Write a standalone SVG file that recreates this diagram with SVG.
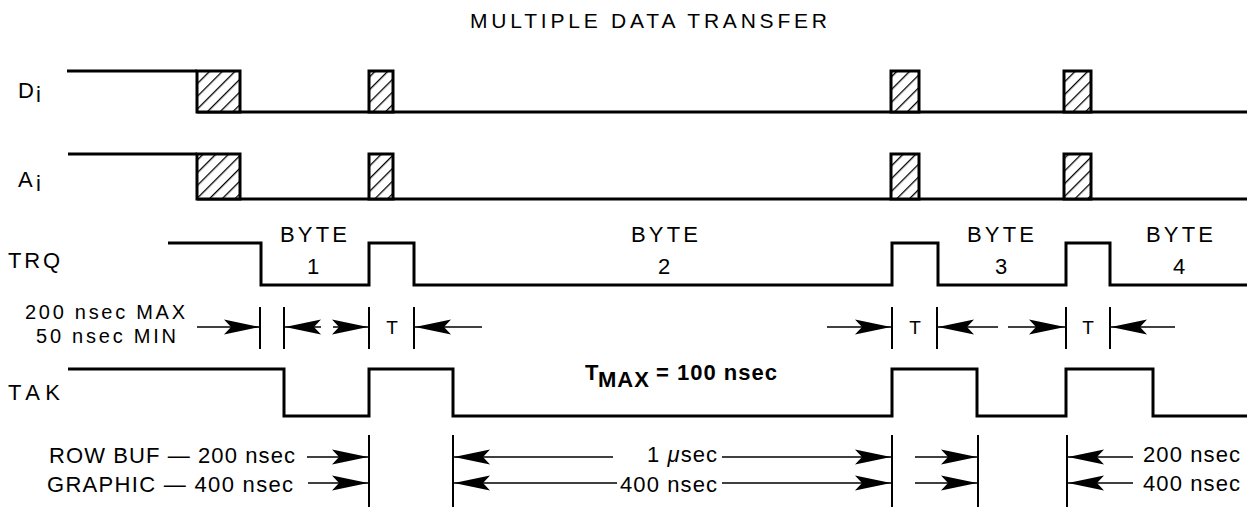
<svg xmlns="http://www.w3.org/2000/svg" width="1254" height="508" viewBox="0 0 1254 508">
<style>
text{font-family:"Liberation Sans",Arial,sans-serif;fill:#000;font-size:22px}
.title{font-size:21px}
.t{font-size:19px;text-anchor:middle}
.mid{text-anchor:middle}
.lim{font-size:20px}
.sig{fill:none;stroke:#000;stroke-width:3;stroke-linejoin:miter}
.box{fill:url(#hatch);stroke:#000;stroke-width:3}
.tick{stroke:#000;stroke-width:2}
.dim{stroke:#000;stroke-width:1.6;marker-end:url(#ah)}
</style>
<defs>
<pattern id="hatch" patternUnits="userSpaceOnUse" width="9" height="9" patternTransform="rotate(45)">
<rect width="9" height="9" fill="#fff"/>
<line x1="0" y1="0" x2="0" y2="9" stroke="#000" stroke-width="2.6"/>
</pattern>
<marker id="ah" viewBox="-37 -9 38 18" refX="0" refY="0" markerWidth="38" markerHeight="18" orient="auto" markerUnits="userSpaceOnUse">
<path d="M0,0 L-36,-7.5 L-29,0 L-36,7.5 Z" fill="#000"/>
</marker>
</defs>
<rect width="1254" height="508" fill="#fff"/>
<text class="title" x="470" y="28" textLength="357" lengthAdjust="spacing">MULTIPLE DATA TRANSFER</text>

<g id="Di">
<text x="18" y="98">D<tspan x="36" dy="4">i</tspan></text>
<path class="sig" d="M67,71 H197 M197,112 H1247"/>
<rect class="box" x="197" y="71" width="43" height="41"/>
<rect class="box" x="369" y="71" width="24" height="41"/>
<rect class="box" x="891" y="71" width="28" height="41"/>
<rect class="box" x="1064" y="71" width="27" height="41"/>
</g>

<g id="Ai">
<text x="18" y="187">A<tspan x="36" dy="4">i</tspan></text>
<path class="sig" d="M68,154 H197 M197,199 H1247"/>
<rect class="box" x="197" y="154" width="43" height="45"/>
<rect class="box" x="369" y="154" width="24" height="45"/>
<rect class="box" x="891" y="154" width="28" height="45"/>
<rect class="box" x="1064" y="154" width="27" height="45"/>
</g>

<g id="TRQ">
<text x="8" y="268" textLength="52" lengthAdjust="spacing">TRQ</text>
<path class="sig" d="M168,243 H261 V285 H369 V243 H414 V285 H892 V243 H938 V285 H1066 V243 H1110 V285 H1247"/>
<text x="280" y="242" textLength="67" lengthAdjust="spacing">BYTE</text>
<text class="mid" x="313" y="274">1</text>
<text x="631" y="242" textLength="67" lengthAdjust="spacing">BYTE</text>
<text class="mid" x="664" y="274">2</text>
<text x="967" y="242" textLength="67" lengthAdjust="spacing">BYTE</text>
<text class="mid" x="1001" y="274">3</text>
<text x="1146" y="242" textLength="67" lengthAdjust="spacing">BYTE</text>
<text class="mid" x="1179" y="274">4</text>
</g>

<g id="timing-labels">
<text class="lim" x="25" y="319" textLength="160" lengthAdjust="spacing">200 nsec MAX</text>
<text class="lim" x="36" y="343" textLength="140" lengthAdjust="spacing">50 nsec MIN</text>
<text class="t" x="392" y="334">T</text>
<text class="t" x="915" y="334">T</text>
<text class="t" x="1088" y="334">T</text>
</g>

<g id="TAK">
<text x="8" y="400" textLength="52" lengthAdjust="spacing">TAK</text>
<path class="sig" d="M68,369 H284 V416 H369 V369 H453 V416 H892 V369 H977 V416 H1066 V369 H1153 V416 H1247"/>
<text x="585" y="380" font-weight="bold" font-size="21" letter-spacing="1">T<tspan x="598" dy="7">MAX</tspan><tspan x="656" dy="-7">= 100 nsec</tspan></text>
</g>

<g id="buffer-labels">
<text x="49" y="463" textLength="246" lengthAdjust="spacing">ROW BUF — 200 nsec</text>
<text x="47" y="492" textLength="246" lengthAdjust="spacing">GRAPHIC — 400 nsec</text>
<text x="647" y="462" textLength="70" lengthAdjust="spacing">1 <tspan font-style="italic">μ</tspan>sec</text>
<text x="620" y="492" textLength="97" lengthAdjust="spacing">400 nsec</text>
<text x="1143" y="462" textLength="97" lengthAdjust="spacing">200 nsec</text>
<text x="1143" y="491" textLength="97" lengthAdjust="spacing">400 nsec</text>
</g>

<g id="connectors">
<g class="tick">
<line x1="260" y1="307" x2="260" y2="349"/>
<line x1="284" y1="307" x2="284" y2="349"/>
<line x1="369" y1="307" x2="369" y2="349"/>
<line x1="414" y1="307" x2="414" y2="349"/>
<line x1="892" y1="307" x2="892" y2="349"/>
<line x1="937" y1="307" x2="937" y2="349"/>
<line x1="1066" y1="307" x2="1066" y2="349"/>
<line x1="1110" y1="307" x2="1110" y2="349"/>
<line x1="369" y1="435" x2="369" y2="507"/>
<line x1="453" y1="435" x2="453" y2="507"/>
<line x1="892" y1="435" x2="892" y2="507"/>
<line x1="978" y1="435" x2="978" y2="507"/>
<line x1="1067" y1="435" x2="1067" y2="507"/>
</g>
<line class="dim" x1="197" y1="327" x2="260" y2="327"/>
<line class="dim" x1="321" y1="327" x2="285" y2="327"/>
<line class="dim" x1="333" y1="327" x2="368" y2="327"/>
<line class="dim" x1="482" y1="327" x2="415" y2="327"/>
<line class="dim" x1="827" y1="327" x2="891" y2="327"/>
<line class="dim" x1="998" y1="327" x2="938" y2="327"/>
<line class="dim" x1="1008" y1="327" x2="1065" y2="327"/>
<line class="dim" x1="1175" y1="327" x2="1111" y2="327"/>

<line class="dim" x1="307" y1="457" x2="368" y2="457"/>
<line class="dim" x1="308" y1="483" x2="368" y2="483"/>
<line class="dim" x1="613" y1="457" x2="454" y2="457"/>
<line class="dim" x1="617" y1="483" x2="454" y2="483"/>
<line class="dim" x1="722" y1="457" x2="891" y2="457"/>
<line class="dim" x1="722" y1="483" x2="891" y2="483"/>
<line class="dim" x1="915" y1="457" x2="977" y2="457"/>
<line class="dim" x1="915" y1="483" x2="977" y2="483"/>
<line class="dim" x1="1133" y1="457" x2="1068" y2="457"/>
<line class="dim" x1="1133" y1="483" x2="1068" y2="483"/>
</g>
</svg>
